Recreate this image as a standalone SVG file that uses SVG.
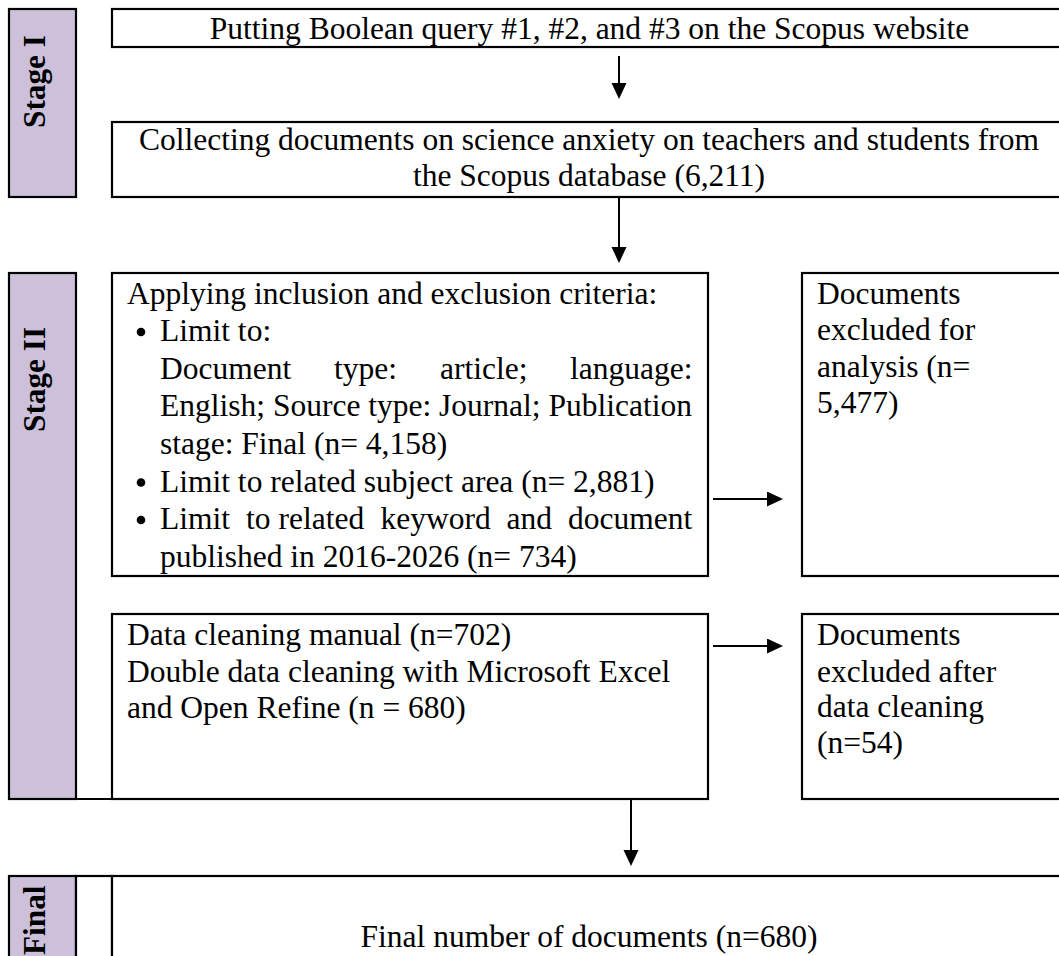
<svg xmlns="http://www.w3.org/2000/svg" width="1059" height="956" viewBox="0 0 1059 956">
<style>
.box{fill:#ffffff;stroke:#000;stroke-width:2.2}
.panel{fill:#CCC0DA;stroke:#000;stroke-width:2.2}
.t{font-family:"Liberation Serif","Times New Roman",serif;font-size:31.5px;fill:#000}
.c{text-anchor:middle}
.lbl{font-family:"Liberation Serif","Times New Roman",serif;font-size:31.3px;font-weight:bold;fill:#000}
.ln{stroke:#000;stroke-width:2;fill:none}
</style>
<defs>
<marker id="ah" markerUnits="userSpaceOnUse" markerWidth="16" markerHeight="16" refX="12" refY="7.5" orient="auto">
<path d="M0,0 L16,7.5 L0,15 z" fill="#000"/>
</marker>
</defs>
<rect width="1059" height="956" fill="#fff"/>

<g id="stage1">
<rect class="panel" x="9" y="9" width="67" height="188"/>
<text class="lbl" transform="translate(45,128) rotate(-90)">Stage I</text>
</g>

<g id="stage2">
<rect class="panel" x="9" y="273" width="67" height="526"/>
<line class="ln" x1="76" y1="799" x2="112" y2="799" stroke-width="2.2"/>
<text class="lbl" transform="translate(45,432) rotate(-90)">Stage II</text>
</g>

<g id="stageFinal">
<rect class="panel" x="9" y="876" width="67" height="90"/>
<rect class="box" x="76" y="876" width="36" height="90"/>
<text class="lbl" transform="translate(45,955) rotate(-90)">Final</text>
</g>

<g id="box-query">
<rect class="box" x="112" y="9" width="960" height="38"/>
<text class="t c" x="589.5" y="39">Putting Boolean query #1, #2, and #3 on the Scopus website</text>
</g>

<g id="box-collect">
<rect class="box" x="112" y="122" width="960" height="75"/>
<text class="t c" x="589" y="150">Collecting documents on science anxiety on teachers and students from</text>
<text class="t c" x="589" y="186">the Scopus database (6,211)</text>
</g>

<g id="box-criteria">
<rect class="box" x="112" y="273" width="596" height="303"/>
<text class="t" x="127" y="303.5">Applying inclusion and exclusion criteria:</text>
<circle cx="141" cy="332" r="4.3" fill="#000"/>
<text class="t" x="160" y="341.1">Limit to:</text>
<text class="t" y="378.7"><tspan x="160">Document</tspan><tspan x="334">type:</tspan><tspan x="440">article;</tspan><tspan x="570">language:</tspan></text>
<text class="t" x="160" y="416.3" textLength="532" lengthAdjust="spacing">English; Source type: Journal; Publication</text>
<text class="t" x="160" y="453.9">stage: Final (n= 4,158)</text>
<circle cx="141" cy="482.5" r="4.3" fill="#000"/>
<text class="t" x="160" y="491.5">Limit to related subject area (n= 2,881)</text>
<circle cx="141" cy="520" r="4.3" fill="#000"/>
<text class="t" y="529.1"><tspan x="160">Limit</tspan><tspan x="246">to</tspan><tspan x="278.5">related</tspan><tspan x="380.5">keyword</tspan><tspan x="506.5">and</tspan><tspan x="568">document</tspan></text>
<text class="t" x="160" y="566.7">published in 2016-2026 (n= 734)</text>
</g>

<g id="box-excluded1">
<rect class="box" x="802" y="273" width="270" height="303"/>
<text class="t" x="817" y="304">Documents</text>
<text class="t" x="817" y="340.4">excluded for</text>
<text class="t" x="817" y="376.8">analysis (n=</text>
<text class="t" x="817" y="413.2">5,477)</text>
</g>

<g id="box-cleaning">
<rect class="box" x="112" y="614" width="596" height="185"/>
<text class="t" x="127" y="645">Data cleaning manual (n=702)</text>
<text class="t" x="127" y="681.5">Double data cleaning with Microsoft Excel</text>
<text class="t" x="127" y="718">and Open Refine (n = 680)</text>
</g>

<g id="box-excluded2">
<rect class="box" x="802" y="614" width="270" height="185"/>
<text class="t" x="817" y="645">Documents</text>
<text class="t" x="817" y="681.5">excluded after</text>
<text class="t" x="817" y="717">data cleaning</text>
<text class="t" x="817" y="753.3">(n=54)</text>
</g>

<g id="box-final">
<rect class="box" x="112" y="876" width="960" height="90"/>
<text class="t c" x="589" y="947">Final number of documents (n=680)</text>
</g>

<g id="connectors">
<line class="ln" x1="619" y1="56" x2="619" y2="95" marker-end="url(#ah)"/>
<line class="ln" x1="619" y1="198" x2="619" y2="259" marker-end="url(#ah)"/>
<line class="ln" x1="713" y1="499" x2="779" y2="499" marker-end="url(#ah)"/>
<line class="ln" x1="713" y1="646" x2="779" y2="646" marker-end="url(#ah)"/>
<line class="ln" x1="631" y1="800" x2="631" y2="862" marker-end="url(#ah)"/>
</g>
</svg>
